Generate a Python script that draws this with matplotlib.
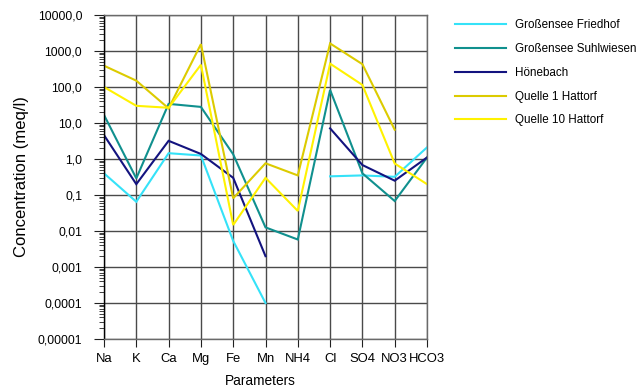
import numpy as np
import matplotlib
matplotlib.use("Agg")
import matplotlib.pyplot as plt
from matplotlib.ticker import FixedLocator, LogLocator, NullFormatter

# Ion concentrations in meq/l per sampling site (nan = not measured)
parameters = ["Na", "K", "Ca", "Mg", "Fe", "Mn", "NH4", "Cl", "SO4", "NO3", "HCO3"]

grossensee_friedhof = [0.40, 0.065, 1.45, 1.25, 0.0053, 0.0001, np.nan, 0.33, 0.35, 0.32, 2.1]
grossensee_suhlwiesen = [16.7, 0.29, 34.0, 28.0, 1.35, 0.0126, 0.0058, 83.0, 0.40, 0.068, 1.1]
hoenebach = [4.6, 0.20, 3.2, 1.38, 0.30, 0.0020, np.nan, 7.1, 0.68, 0.25, 1.1]
quelle_1_hattorf = [390.0, 150.0, 25.5, 1550.0, 0.081, 0.76, 0.35, 1620.0, 430.0, 6.5, np.nan]
quelle_10_hattorf = [100.0, 30.0, 26.5, 415.0, 0.0147, 0.30, 0.036, 445.0, 114.0, 0.75, 0.20]

series_names = ["Großensee Friedhof", "Großensee Suhlwiesen", "Hönebach",
                "Quelle 1 Hattorf", "Quelle 10 Hattorf"]
series_values = [grossensee_friedhof, grossensee_suhlwiesen, hoenebach,
                 quelle_1_hattorf, quelle_10_hattorf]
series_colors = ["#35E2F8", "#10908E", "#13137F", "#DCCB00", "#FFF200"]

y_ticks = [1e-5, 1e-4, 1e-3, 1e-2, 1e-1, 1, 10, 100, 1000, 10000]
y_tick_labels = ["0,00001", "0,0001", "0,001", "0,01", "0,1",
                 "1,0", "10,0", "100,0", "1000,0", "10000,0"]

plt.rcParams["font.family"] = ["Liberation Sans", "DejaVu Sans"]

fig = plt.figure(figsize=(6.36, 3.92), dpi=100)
ax = fig.add_axes([104 / 636, 1 - 339 / 392, (427 - 104) / 636, (339 - 15) / 392])

x = np.arange(len(parameters))
for name, vals, col in zip(series_names, series_values, series_colors):
    ax.plot(x, vals, color=col, lw=1.5, label=name, solid_joinstyle="miter")

ax.set_yscale("log")
ax.set_ylim(1e-5, 1e4)
ax.set_xlim(0, len(parameters) - 1)

ax.yaxis.set_major_locator(FixedLocator(y_ticks))
ax.set_yticklabels(y_tick_labels)
ax.yaxis.set_minor_locator(LogLocator(base=10, subs=np.arange(2, 10), numticks=20))
ax.yaxis.set_minor_formatter(NullFormatter())

ax.set_xticks(x)
ax.set_xticklabels(parameters, fontsize=9.4)

ax.tick_params(axis="y", which="major", length=7.2, width=0.8, pad=8.5,
               labelsize=8.8, color="#202020", right=False)
ax.tick_params(axis="y", which="minor", length=3.6, width=0.6, color="#202020")
ax.tick_params(axis="x", which="major", length=5.8, width=0.8, pad=4.5,
               color="#202020")

ax.grid(True, which="major", color="#4A4A4A", lw=1.0)
ax.set_axisbelow(True)
for side in ["top", "right", "bottom"]:
    ax.spines[side].set_color("#6A6A6A")
    ax.spines[side].set_linewidth(1.0)
ax.spines["left"].set_color("#000000")
ax.spines["left"].set_linewidth(1.0)

ax.set_ylabel("Concentration (meq/l)", fontsize=12, labelpad=6)
ax.set_xlabel("Parameters", fontsize=9.9)
ax.xaxis.set_label_coords((260.5 - 104) / 323, -(374 - 339) / 324)

fig.legend(loc="upper left", bbox_to_anchor=(449 / 636, 1 - 13.5 / 392),
           frameon=False, borderpad=0, handlelength=4.4, handletextpad=0.78,
           labelspacing=1.01, prop={"size": 8.4})

fig.savefig("out.png", dpi=100)
